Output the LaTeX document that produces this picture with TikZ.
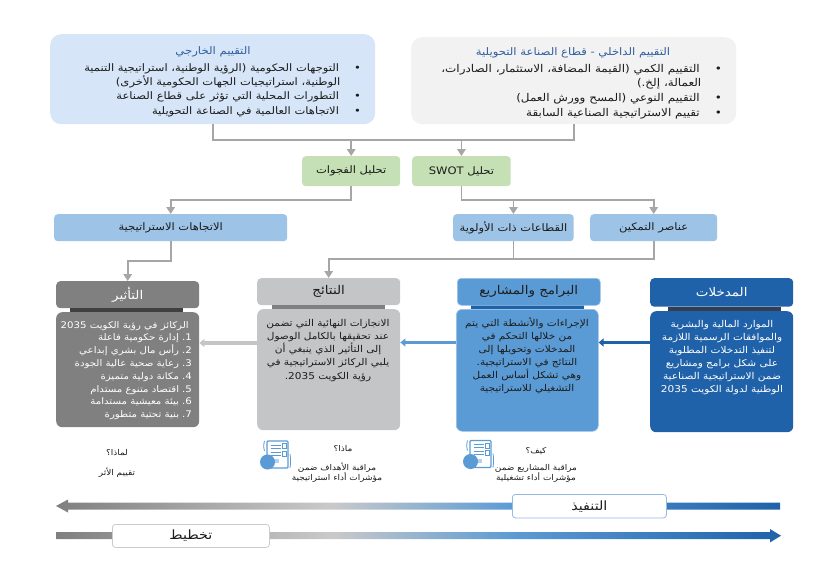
\documentclass[tikz,border=0pt]{standalone}
\usepackage{fontspec}
\usetikzlibrary{arrows.meta}
\TeXXeTstate=1
\newfontfamily\arabicfont[Script=Arabic,FakeStretch=1.12]{DejaVu Sans}
\newcommand\rl[1]{\hbox{\beginR #1\endR}}
\newcommand\ltr[1]{\beginL #1\endL{}}
\newcommand\bul{•\kern 15pt}
\newcommand\bulx{\kern 20.5pt}
\newcommand\num[1]{\ltr{#1.}\kern 3pt}
\newcommand\fsz[2]{\arabicfont\fontsize{#1}{#2}\selectfont}
\definecolor{conngrey}{HTML}{A6A6A6}
\definecolor{titleblue}{HTML}{2F5D9E}
\definecolor{inpblue}{HTML}{2062A9}
\definecolor{progblue}{HTML}{5B9BD5}
\definecolor{extfill}{HTML}{D6E6F8}
\definecolor{intfill}{HTML}{F2F2F2}
\definecolor{greenfill}{HTML}{C5E0B4}
\definecolor{skyfill}{HTML}{9DC3E6}
\definecolor{resfill}{HTML}{C4C5C7}
\definecolor{inkbar}{HTML}{333F50}
\definecolor{inkdark}{HTML}{1C1C1C}
\pgfdeclarehorizontalshading{timeline}{100bp}{
 color(0bp)=(black!50); color(25bp)=(black!50); color(44bp)=(black!21); color(56.5bp)=(progblue); color(75bp)=(inpblue); color(100bp)=(inpblue)}
\tikzset{
 x=1pt,y=-1pt,
 every node/.style={font=\arabicfont,text=inkdark},
 conn/.style={draw=conngrey,line width=1.8pt},
 arr/.style={conn,-{Triangle[length=7pt,width=8.5pt]}},
 flow/.style={line width=3.2pt,-{Triangle[length=5pt,width=8pt]}},
 topbox/.style={rounded corners=11pt,inner sep=0pt,anchor=north west},
 smallbox/.style={rounded corners=3.5pt,inner sep=0pt,anchor=north west,font=\fsz{10.3}{12}},
 head/.style={rounded corners=4pt,inner sep=0pt,anchor=north west,font=\fsz{12}{14}},
 panel/.style={rounded corners=6pt,inner sep=0pt,anchor=north west},
 boxtitle/.style={inner sep=0pt,anchor=center,text=titleblue,font=\fsz{10.4}{12}},
 txt/.style={inner sep=0pt,align=center,anchor=north,font=\fsz{9.4}{13}},
 listtxt/.style={inner sep=0pt,align=right,anchor=north east,font=\fsz{10.3}{14.4}},
 small/.style={inner sep=0pt,align=center,font=\fsz{8}{10}},
 band/.style={rounded corners=3pt,fill=white,inner sep=0pt,anchor=north west,line width=.8pt,font=\fsz{12.8}{14}},
}
\newcommand\docicon[2]{%
 \begin{scope}[shift={(#1,#2)},draw=progblue,line width=.8pt]
  \draw[rounded corners=1pt,line width=1.1pt] (7,1) rectangle (28,28);
  \draw (4.5,1) .. controls (3.5,4) and (3.5,8) .. (4.5,11);
  \draw (30,14) .. controls (30.7,18) and (30.7,24) .. (30,28);
  \draw (10.5,5) -- (21,5) (10.5,8) -- (21,8) (10.5,12) -- (21,12) (10.5,15) -- (21,15);
  \draw (22,3.5) rectangle (26,8.5) (22,11) rectangle (26,16);
  \fill[progblue!45] (14,19) rectangle (19,23);
  \fill[progblue] (7.5,22) circle (7.5pt);
 \end{scope}}
\begin{document}
\begin{tikzpicture}
\useasboundingbox (0,0) rectangle (826,578);
% top boxes
\node[topbox,fill=extfill,minimum width=325pt,minimum height=90pt] (ext) at (50,34) {};
\node[topbox,fill=intfill,minimum width=325pt,minimum height=87pt] (int) at (411,37) {};
\node[boxtitle] (extt) at (213,52) {\rl{التقييم الخارجي}};
\node[listtxt] (extl) at (361,63) {\rl{\bul التوجهات الحكومية (الرؤية الوطنية، استراتيجية التنمية}\\
 \rl{\bulx الوطنية، استراتيجيات الجهات الحكومية الأخرى)}\\
 \rl{\bul التطورات المحلية التي تؤثر على قطاع الصناعة}\\
 \rl{\bul الاتجاهات العالمية في الصناعة التحويلية}};
\node[boxtitle] (intt) at (573,53) {\rl{التقييم الداخلي - قطاع الصناعة التحويلية}};
\node[listtxt,font=\fsz{10.7}{14.6}] (intl) at (722,64) {\rl{\bul التقييم الكمي (القيمة المضافة، الاستثمار، الصادرات،}\\
 \rl{\bulx العمالة، إلخ.)}\\
 \rl{\bul التقييم النوعي (المسح وورش العمل)}\\
 \rl{\bul تقييم الاستراتيجية الصناعية السابقة}};
% analysis
\node[smallbox,fill=greenfill,minimum width=98pt,minimum height=30pt] (gaps) at (302,156) {\rl{تحليل الفجوات}};
\node[smallbox,fill=greenfill,minimum width=98.5pt,minimum height=30pt] (swot) at (412,156) {\rl{تحليل \ltr{SWOT}}};
\node[smallbox,fill=skyfill,minimum width=233pt,minimum height=27pt] (trends) at (54,214) {\rl{الاتجاهات الاستراتيجية}};
\node[smallbox,fill=skyfill,minimum width=120.5pt,minimum height=27pt] (sectors) at (453,214) {\rl{القطاعات ذات الأولوية}};
\node[smallbox,fill=skyfill,minimum width=127pt,minimum height=27pt] (enablers) at (590,214) {\rl{عناصر التمكين}};
% headers and panels
\node[head,fill=black!50,text=white,minimum width=143pt,minimum height=27pt] (impact) at (56,281) {\rl{التأثير}};
\fill[black!75] (70,308) rectangle (183,312);
\node[panel,fill=black!50,minimum width=143pt,minimum height=115pt] (impactb) at (56,312) {};
\node[head,fill=resfill,minimum width=143pt,minimum height=27pt] (results) at (257,278) {\rl{النتائج}};
\fill[black!50] (272,305) rectangle (385,309);
\node[panel,fill=resfill,minimum width=143pt,minimum height=121pt] (resultsb) at (257,309) {};
\fill[inpblue] (471,305) rectangle (584,309);
\node[head,fill=progblue,draw=skyfill,line width=.6pt,minimum width=143pt,minimum height=27pt] (programs) at (457,278) {\rl{البرامج والمشاريع}};
\node[panel,fill=progblue,draw=skyfill,line width=.6pt,minimum width=142pt,minimum height=122pt] (programsb) at (456,309) {};
\node[head,fill=inpblue,text=white,minimum width=143pt,minimum height=28.5pt] (inputs) at (650,278) {\rl{المدخلات}};
\fill[inkbar] (668,306.5) rectangle (781,311);
\node[panel,fill=inpblue,minimum width=143pt,minimum height=121pt] (inputsb) at (650,311) {};
% connectors
\coordinate (j1) at (300,140);
\coordinate (j2) at (260,200);
\coordinate (j3) at (560,200);
\coordinate (j4) at (480,259);
\coordinate (j5) at (150,261);
\draw[conn] (ext.south) |- (j1) -| (int.south);
\draw[arr] (gaps.north |- j1) -- (gaps.north);
\draw[arr] (swot.north |- j1) -- (swot.north);
\draw[arr] (gaps.south) |- (j2) -| (trends.north);
\draw[arr] (swot.south) |- (j3) -| (enablers.north);
\draw[arr] (sectors.north |- j3) -- (sectors.north);
\draw[conn] (enablers.south) |- (j4);
\draw[conn] (sectors.south) -- (sectors.south |- j4);
\draw[arr] (j4) -| (results.north);
\draw[arr] (trends.south) |- (j5) -| (impact.north);
\draw[flow,draw=resfill] (resultsb.west |- 0,343) -- (impactb.east |- 0,343);
\draw[flow,draw=progblue] (programsb.west |- 0,342.5) -- (resultsb.east |- 0,342.5);
\draw[flow,draw=inpblue] (inputsb.west |- 0,342.5) -- (programsb.east |- 0,342.5);
% panel texts
\node[listtxt,text=white,font=\fsz{9.1}{12.8}] (impactt) at (192,321) {\rl{\kern 3pt الركائز في رؤية الكويت \ltr{2035}}\\
 \rl{\num{1}إدارة حكومية فاعلة}\\
 \rl{\num{2}رأس مال بشري إبداعي}\\
 \rl{\num{3}رعاية صحية عالية الجودة}\\
 \rl{\num{4}مكانة دولية متميزة}\\
 \rl{\num{5}اقتصاد متنوع مستدام}\\
 \rl{\num{6}بيئة معيشية مستدامة}\\
 \rl{\num{7}بنية تحتية متطورة}};
\node[txt,font=\fsz{9.4}{13.2}] (resultst) at (328,319) {\rl{الانجازات النهائية التي تضمن}\\
 \rl{عند تحقيقها بالكامل الوصول}\\
 \rl{إلى التأثير الذي ينبغي أن}\\
 \rl{يلبي الركائز الاستراتيجية في}\\
 \rl{رؤية الكويت \ltr{2035}.}};
\node[txt] (programst) at (527,317) {\rl{الإجراءات والأنشطة التي يتم}\\
 \rl{من خلالها التحكم في}\\
 \rl{المدخلات وتحويلها إلى}\\
 \rl{النتائج في الاستراتيجية.}\\
 \rl{وهي تشكل أساس العمل}\\
 \rl{التشغيلي للاستراتيجية}};
\node[txt,text=white] (inputst) at (722,320) {\rl{الموارد المالية والبشرية}\\
 \rl{والموافقات الرسمية اللازمة}\\
 \rl{لتنفيذ التدخلات المطلوبة}\\
 \rl{على شكل برامج ومشاريع}\\
 \rl{ضمن الاستراتيجية الصناعية}\\
 \rl{الوطنية لدولة الكويت \ltr{2035}}};
% bottom texts
\node[small] (why) at (117,453) {\rl{لماذا؟}};
\node[small] (whyt) at (117,473) {\rl{تقييم الأثر}};
\node[small] (what) at (343,449) {\rl{ماذا؟}};
\node[small] (whatt) at (337,473) {\rl{مراقبة الأهداف ضمن}\\ \rl{مؤشرات أداء استراتيجية}};
\node[small] (how) at (536,451) {\rl{كيف؟}};
\node[small] (howt) at (536,473) {\rl{مراقبة المشاريع ضمن}\\ \rl{مؤشرات أداء تشغيلية}};
\docicon{260}{440}
\docicon{463}{439.5}
% timelines
\shade[shading=timeline] (56,506) -- (68,499.5) -- (68,502.5) -- (780,502.5) -- (780,509.5) -- (68,509.5) -- (68,512.5) -- cycle;
\shade[shading=timeline] (56.5,532.2) -- (770,532.2) -- (770,529) -- (781,535.7) -- (770,542.4) -- (770,539.2) -- (56.5,539.2) -- cycle;
\node[band,draw={rgb,255:red,150;green,185;blue,225},minimum width=154pt,minimum height=23.5pt] (exec) at (512,494) {\rl{التنفيذ}};
\node[band,draw=black!20,minimum width=157pt,minimum height=23pt] (plan) at (112,524) {\rl{تخطيط}};
\end{tikzpicture}
\end{document}
